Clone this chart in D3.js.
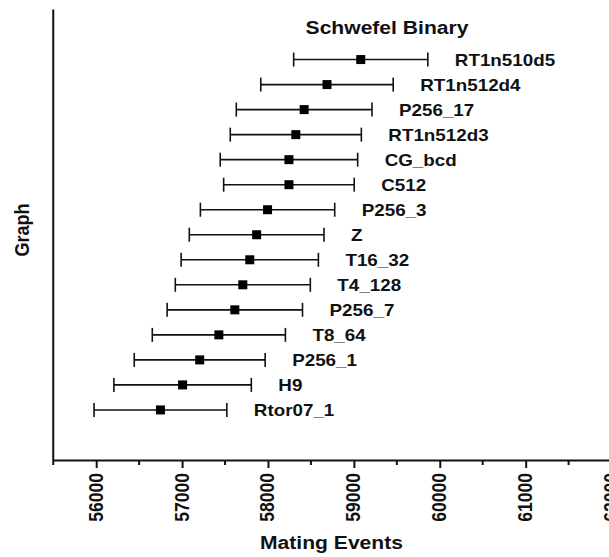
<!DOCTYPE html>
<html>
<head>
<meta charset="utf-8">
<script src="https://cdn.jsdelivr.net/npm/d3@7"></script>
<style>
  html, body { margin: 0; padding: 0; background: #fff; }
  svg { display: block; }
  text { font-family: Arial, 'Liberation Sans', sans-serif; font-weight: bold; fill: #111; }
</style>
</head>
<body>
<div id="chart"></div>
<script>
// categories from bottom to top
const graphs = ['Rtor07_1', 'H9', 'P256_1', 'T8_64', 'P256_7', 'T4_128', 'T16_32', 'Z',
  'P256_3', 'C512', 'CG_bcd', 'RT1n512d3', 'P256_17', 'RT1n512d4', 'RT1n510d5'];

// mean mating events and error (half width of bar)
const means = [56748, 57006, 57205, 57428, 57614, 57707, 57788, 57868,
  57995, 58244, 58244, 58324, 58421, 58687, 59080];
const errors = [773, 800, 762, 775, 788, 786, 799, 784,
  782, 760, 800, 763, 790, 771, 781];

const majorTicks = [56000, 57000, 58000, 59000, 60000, 61000, 62000];
const minorTicks = [55500, 56500, 57500, 58500, 59500, 60500, 61500];

const titleText = 'Schwefel Binary';
const xTitle = 'Mating Events';
const yTitle = 'Graph';

const W = 609, H = 557;
const stretch = 1.14; // text in the source is a bit wider than tall

const svg = d3.select('#chart').append('svg').attr('width', W).attr('height', H);

const x = d3.scaleLinear().domain([55500, 62500]).range([53.25, 654.5]);
const y = d3.scaleLinear().domain([-2, graphs.length + 1]).range([460, 9.5]);

const data = graphs.map((g, i) => ({ name: g, i, mean: means[i], err: errors[i] }));

// left axis line (no ticks)
svg.append('line')
  .attr('x1', x(55500)).attr('x2', x(55500))
  .attr('y1', y.range()[1]).attr('y2', y.range()[0])
  .attr('stroke', '#111').attr('stroke-width', 2);

// bottom axis with major ticks
const axisY = y.range()[0];
const xAxis = d3.axisBottom(x).tickValues(majorTicks).tickSize(8).tickSizeOuter(0).tickFormat(d3.format('d'));
const gx = svg.append('g').attr('transform', `translate(0,${axisY})`).call(xAxis);
gx.select('.domain').attr('stroke', '#111').attr('stroke-width', 2);
gx.selectAll('.tick line').attr('stroke', '#111').attr('stroke-width', 2);
gx.selectAll('.tick text')
  .attr('text-anchor', 'end')
  .attr('dy', '0.35em')
  .attr('y', 0)
  .attr('x', 0)
  .attr('transform', `translate(-1,13) scale(${stretch},1) rotate(-90)`)
  .style('font-size', '17.5px')
  .style('font-family', "Arial, 'Liberation Sans', sans-serif")
  .style('font-weight', 'bold')
  .attr('fill', '#111');

// minor ticks
svg.append('g').selectAll('line')
  .data(minorTicks)
  .enter()
  .append('line')
  .attr('x1', (d) => x(d)).attr('x2', (d) => x(d))
  .attr('y1', axisY).attr('y2', axisY + 5)
  .attr('stroke', '#111').attr('stroke-width', 2);

// error bars
const bars = svg.append('g');
bars.selectAll('.err')
  .data(data)
  .enter()
  .append('line')
  .attr('x1', (d) => x(d.mean - d.err))
  .attr('x2', (d) => x(d.mean + d.err))
  .attr('y1', (d) => y(d.i)).attr('y2', (d) => y(d.i))
  .attr('stroke', '#111').attr('stroke-width', 1.6);

['lo', 'hi'].forEach((side) => {
  bars.selectAll('.cap-' + side)
    .data(data)
    .enter()
    .append('line')
    .attr('x1', (d) => x(side === 'lo' ? d.mean - d.err : d.mean + d.err))
    .attr('x2', (d) => x(side === 'lo' ? d.mean - d.err : d.mean + d.err))
    .attr('y1', (d) => y(d.i) - 7).attr('y2', (d) => y(d.i) + 7)
    .attr('stroke', '#111').attr('stroke-width', 1.6);
});

// square markers
const sz = 9;
bars.selectAll('rect')
  .data(data)
  .enter()
  .append('rect')
  .attr('x', (d) => x(d.mean) - sz / 2)
  .attr('y', (d) => y(d.i) - sz / 2)
  .attr('width', sz).attr('height', sz)
  .attr('fill', '#000');

// category labels to the right of each bar
svg.append('g').selectAll('text')
  .data(data)
  .enter()
  .append('text')
  .attr('transform', (d) => `translate(${x(d.mean + d.err) + 27},${y(d.i) + 6}) scale(${stretch},1)`)
  .style('font-size', '16.5px')
  .text((d) => d.name);

// title
svg.append('text')
  .attr('transform', `translate(387,34) scale(${stretch},1)`)
  .attr('text-anchor', 'middle')
  .style('font-size', '18.5px')
  .text(titleText);

// axis titles
svg.append('text')
  .attr('transform', `translate(331.5,548.5) scale(${stretch},1)`)
  .attr('text-anchor', 'middle')
  .style('font-size', '18.5px')
  .text(xTitle);

svg.append('text')
  .attr('transform', `translate(29,230) scale(${stretch},1) rotate(-90)`)
  .attr('text-anchor', 'middle')
  .style('font-size', '18px')
  .text(yTitle);
</script>
</body>
</html>
